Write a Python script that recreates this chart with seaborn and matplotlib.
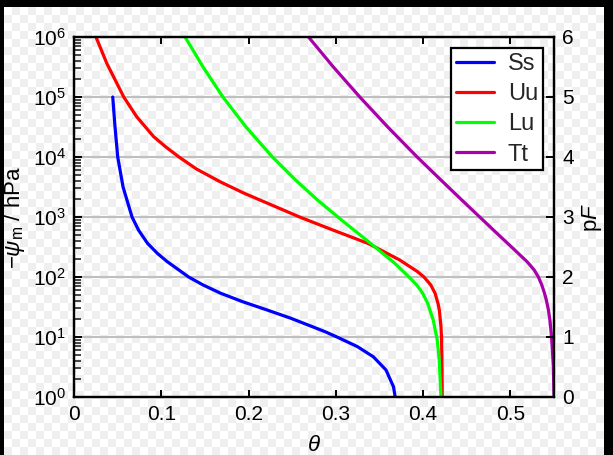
import numpy as np
import pandas as pd
import matplotlib
matplotlib.use("Agg")
import matplotlib.pyplot as plt
import seaborn as sns
from matplotlib.ticker import LogLocator, NullFormatter

# ---- data; pF = log10(-psi_m / hPa) ----
soils = ["Ss", "Uu", "Lu", "Tt"]
colors = ["#0000ff", "#ff0000", "#00ff00", "#aa00aa"]

ss_theta = [0.0444, 0.0470, 0.0501, 0.0562, 0.0665, 0.0740, 0.0843, 0.0958, 0.1069,
            0.1314, 0.1479, 0.1679, 0.1929, 0.2213, 0.2489, 0.2878, 0.3013, 0.3247,
            0.3430, 0.3575, 0.3661, 0.368]
ss_pf = [5.0, 4.5, 4.0, 3.5, 3.0, 2.78, 2.56, 2.39, 2.255,
         2.0, 1.867, 1.73, 1.59, 1.45, 1.31, 1.088, 1.0, 0.84,
         0.67, 0.45, 0.17, 0.0]

uu_theta = [0.0252, 0.0376, 0.0570, 0.0719, 0.0912, 0.1050, 0.1203, 0.1403, 0.1671,
            0.1943, 0.2216, 0.2585, 0.2936, 0.3369, 0.3733, 0.3935, 0.4010, 0.4088,
            0.4137, 0.4171, 0.4186, 0.4205, 0.4211, 0.4217, 0.4219]
uu_pf = [6.0, 5.56, 5.0, 4.67, 4.34, 4.17, 4.0, 3.8, 3.59,
         3.4, 3.23, 3.0, 2.8, 2.56, 2.283, 2.09, 2.0, 1.867,
         1.73, 1.56, 1.45, 1.17, 1.0, 0.5, 0.0]

lu_theta = [0.1273, 0.1479, 0.1706, 0.1971, 0.2274, 0.2538, 0.2790, 0.3065, 0.3399,
            0.3674, 0.3839, 0.3927, 0.3995, 0.4053, 0.4116, 0.4162, 0.4185, 0.4205]
lu_pf = [6.0, 5.5, 5.0, 4.5, 4.0, 3.617, 3.283, 2.95, 2.56,
         2.23, 2.0, 1.867, 1.73, 1.56, 1.283, 0.95, 0.617, 0.0]

tt_theta = [0.2687, 0.2972, 0.3275, 0.3595, 0.3932, 0.4204, 0.4424, 0.4649, 0.4830,
            0.5010, 0.5195, 0.5273, 0.5321, 0.5360, 0.5391, 0.5412, 0.5436, 0.5453,
            0.5472, 0.5493, 0.55]
tt_pf = [6.0, 5.5, 5.0, 4.5, 4.0, 3.617, 3.31, 3.0, 2.75,
         2.505, 2.25, 2.117, 2.0, 1.867, 1.73, 1.617, 1.45, 1.283,
         1.0, 0.5, 0.0]

x_ticks = [0, 0.1, 0.2, 0.3, 0.4, 0.5]
pf_ticks = [0, 1, 2, 3, 4, 5, 6]

frames = []
for name, th, pf in zip(soils, [ss_theta, uu_theta, lu_theta, tt_theta],
                        [ss_pf, uu_pf, lu_pf, tt_pf]):
    frames.append(pd.DataFrame({"theta": th, "h": np.power(10.0, pf), "soil": name}))
df = pd.concat(frames, ignore_index=True)

# ---- style ----
sns.set_theme(style="ticks")
plt.rcParams["font.family"] = ["Liberation Sans", "DejaVu Sans"]
plt.rcParams["mathtext.fontset"] = "custom"
plt.rcParams["mathtext.rm"] = "Liberation Sans"
plt.rcParams["mathtext.it"] = "Liberation Sans:italic"
plt.rcParams["mathtext.bf"] = "Liberation Sans:bold"
plt.rcParams["axes.unicode_minus"] = False

W, H = 613, 455
fig = plt.figure(figsize=(W / 100, H / 100), dpi=100, facecolor="black")

# transparent-looking checkerboard background (pixel image)
bw, bh, sq = 600, 448, 8
yy, xx = np.indices((bh, bw))
chk = ((yy // sq + xx // sq) % 2).astype(float)
rgb = np.empty((bh, bw, 3))
light, dark = 1.0, 0xef / 255
for c in range(3):
    rgb[..., c] = np.where(chk == 0, light, dark)
fig.figimage(rgb, xo=4, yo=0, origin="upper", zorder=-10)

ax = fig.add_axes([74 / W, 1 - 397 / H, 480 / W, 360 / H])
ax.set_facecolor("none")
ax.set_zorder(1)

sns.lineplot(data=df, x="theta", y="h", hue="soil", hue_order=soils,
             palette=dict(zip(soils, colors)), sort=False, estimator=None,
             linewidth=2.3, ax=ax)
for ln in ax.get_lines():
    ln.set_solid_joinstyle("round")

ax.set_yscale("log")
ax.set_xlim(0, 0.55)
ax.set_ylim(1, 1e6)
ax.set_xticks(x_ticks)
ax.set_xticklabels([("%g" % v) for v in x_ticks])
ax.yaxis.set_major_locator(LogLocator(base=10, numticks=10))
ax.yaxis.set_minor_locator(LogLocator(base=10, subs=np.arange(2, 10), numticks=20))
ax.yaxis.set_minor_formatter(NullFormatter())

ax.yaxis.grid(True, which="major", color="#c0c0c0", linewidth=1.5)
ax.xaxis.grid(False)

for s in ax.spines.values():
    s.set_color("black")
    s.set_linewidth(1.6)

ax.tick_params(axis="x", which="both", direction="in", top=True, bottom=True,
               length=5, width=1.4, labelsize=15, pad=6, colors="black")
ax.tick_params(axis="y", which="major", direction="in", left=True, right=False,
               length=6, width=1.4, labelsize=15, pad=6, colors="black")
ax.tick_params(axis="y", which="minor", direction="in", left=True, right=False,
               length=5, width=1.2)

ax.set_xlabel(r"$\theta$", fontsize=16, labelpad=8, color="black")
ax.set_ylabel(r"$-\psi_\mathrm{m}$ / hPa", fontsize=16, labelpad=4, color="black")

ax2 = ax.twinx()
ax2.set_zorder(2)
ax2.set_facecolor("none")
ax2.set_ylim(0, 6)
ax2.set_yticks(pf_ticks)
ax2.tick_params(axis="y", direction="in", length=6, width=1.4, labelsize=15,
                pad=6, colors="black")
ax2.set_ylabel(r"p$F$", fontsize=16, labelpad=4, color="black")
for s in ax2.spines.values():
    s.set_color("black")
    s.set_linewidth(1.6)

handles, labels = ax.get_legend_handles_labels()
for hnd in handles:
    hnd.set_linewidth(2.3)
leg = ax.legend(handles, labels, loc="upper right", fontsize=17, frameon=True,
                fancybox=False, framealpha=1, edgecolor="black",
                handlelength=1.6, labelspacing=0.35, borderaxespad=0.47,
                handletextpad=0.6, borderpad=0.2)
leg.get_frame().set_linewidth(1.6)
leg.set_zorder(10)

fig.savefig("out.png", dpi=100, facecolor="black")
